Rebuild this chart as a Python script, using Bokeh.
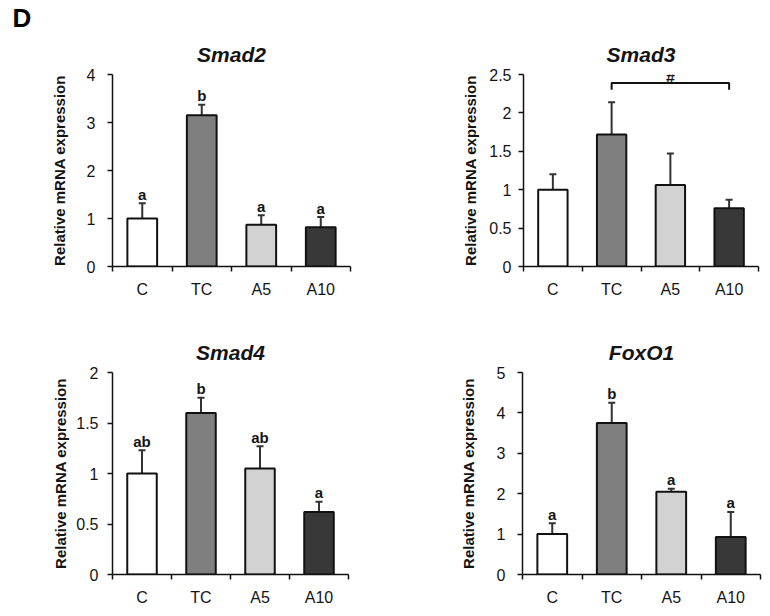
from bokeh.plotting import figure
from bokeh.layouts import column, row
from bokeh.models import (FixedTicker, Range1d, ColumnDataSource, Whisker, TeeHead,
                          Title)
from bokeh.core.properties import value
from bokeh.embed import file_html
from bokeh.resources import INLINE

# ---------------- data ----------------
groups = ["C", "TC", "A5", "A10"]
bar_colors = ["#ffffff", "#7f7f7f", "#d2d2d2", "#383838"]

smad2_mean = [1.00, 3.15, 0.87, 0.82]
smad2_err = [0.32, 0.22, 0.20, 0.21]
smad2_letters = ["a", "b", "a", "a"]
smad2_yticks = [0, 1, 2, 3, 4]
smad2_ylabels = ["0", "1", "2", "3", "4"]

smad3_mean = [1.00, 1.72, 1.06, 0.76]
smad3_err = [0.20, 0.42, 0.41, 0.11]
smad3_letters = ["", "", "", ""]
smad3_yticks = [0, 0.5, 1, 1.5, 2, 2.5]
smad3_ylabels = ["0", "0.5", "1", "1.5", "2", "2.5"]
smad3_bracket_groups = ["TC", "A10"]
smad3_bracket_top = 2.39
smad3_bracket_end = 2.30
smad3_bracket_mark = "#"

smad4_mean = [1.00, 1.60, 1.05, 0.62]
smad4_err = [0.23, 0.15, 0.22, 0.10]
smad4_letters = ["ab", "b", "ab", "a"]
smad4_yticks = [0, 0.5, 1, 1.5, 2]
smad4_ylabels = ["0", "0.5", "1", "1.5", "2"]

foxo1_mean = [1.00, 3.75, 2.05, 0.93]
foxo1_err = [0.27, 0.50, 0.07, 0.62]
foxo1_letters = ["a", "b", "a", "a"]
foxo1_yticks = [0, 1, 2, 3, 4, 5]
foxo1_ylabels = ["0", "1", "2", "3", "4", "5"]

panel_letter = "D"
ylabel_text = "Relative mRNA expression"

FONT = "Liberation Sans"
TXT = "#141414"


def make_panel(title, means, errs, letters, yticks, ylabels, w, h, bl, br, bt, bb,
               tick_standoff, label_standoff):
    n = len(groups)
    xs = [i + 0.5 for i in range(n)]
    tops = [m + e for m, e in zip(means, errs)]
    src = ColumnDataSource(dict(x=xs, top=means, hi=tops, color=bar_colors,
                                letter=letters))
    p = figure(width=w, height=h, output_backend="svg", toolbar_location=None,
               title=None,
               x_range=Range1d(0, n), y_range=Range1d(yticks[0], yticks[-1]),
               min_border_left=bl, min_border_right=br, min_border_top=bt,
               min_border_bottom=bb, outline_line_color=None,
               background_fill_color="white", border_fill_color="white")
    p.xgrid.visible = False
    p.ygrid.visible = False

    p.vbar(x="x", top="top", bottom=0, width=0.5, fill_color="color",
           line_color="#111111", line_width=2, source=src)
    p.add_layout(Whisker(source=src, base="x", lower="top", upper="hi",
                         dimension="height", line_color="#333333", line_width=2,
                         lower_head=None,
                         upper_head=TeeHead(size=7, line_color="#333333", line_width=2)))
    p.text(x="x", y="hi", text="letter", source=src, text_align="center",
           text_baseline="alphabetic", y_offset=-9, text_font=value(FONT),
           text_font_style="bold", text_font_size="15px", text_color=TXT)

    # title (closest to the frame)
    p.add_layout(Title(text=title, align="center", text_font=FONT,
                       text_font_style="bold italic", text_font_size="21px",
                       text_color=TXT, standoff=17), "above")

    # x axis
    xa = p.xaxis[0]
    xa.ticker = FixedTicker(ticks=xs, minor_ticks=list(range(n + 1)))
    xa.major_label_overrides = {x: g for x, g in zip(xs, groups)}
    xa.major_tick_out = 0
    xa.major_tick_in = 0
    xa.minor_tick_out = 5
    xa.minor_tick_in = 0
    xa.minor_tick_line_color = "#111111"
    xa.minor_tick_line_width = 1.5
    xa.axis_line_color = "#111111"
    xa.axis_line_width = 1.5
    xa.major_label_text_font = FONT
    xa.major_label_text_font_size = "16px"
    xa.major_label_text_color = TXT
    xa.major_label_standoff = 9

    # y axis
    ya = p.yaxis[0]
    ya.ticker = FixedTicker(ticks=yticks, minor_ticks=[])
    ya.major_label_overrides = {t: l for t, l in zip(yticks, ylabels)}
    ya.major_tick_out = 5
    ya.major_tick_in = 0
    ya.major_tick_line_color = "#111111"
    ya.major_tick_line_width = 1.5
    ya.axis_line_color = "#111111"
    ya.axis_line_width = 1.5
    ya.major_label_text_font = FONT
    ya.major_label_text_font_size = "16px"
    ya.major_label_text_color = TXT
    ya.major_label_standoff = tick_standoff
    ya.axis_label = ylabel_text
    ya.axis_label_text_font = FONT
    ya.axis_label_text_font_style = "bold"
    ya.axis_label_text_font_size = "15px"
    ya.axis_label_text_color = TXT
    ya.axis_label_standoff = label_standoff
    return p, xs


p1, _ = make_panel("Smad2", smad2_mean, smad2_err, smad2_letters, smad2_yticks,
                   smad2_ylabels, 385, 300, 112, 35, 72, 32, 12, 16)
p2, xs2 = make_panel("Smad3", smad3_mean, smad3_err, smad3_letters, smad3_yticks,
                     smad3_ylabels, 377, 300, 138, 4, 71, 32, 7, 7)
p3, _ = make_panel("Smad4", smad4_mean, smad4_err, smad4_letters, smad4_yticks,
                   smad4_ylabels, 385, 308, 112, 37, 72, 33, 9, 4)
p4, _ = make_panel("FoxO1", foxo1_mean, foxo1_err, foxo1_letters, foxo1_yticks,
                   foxo1_ylabels, 377, 308, 137, 2, 72, 33, 12, 17)

# significance bracket on Smad3 (TC vs A10)
bx0 = xs2[groups.index(smad3_bracket_groups[0])]
bx1 = xs2[groups.index(smad3_bracket_groups[1])]
p2.line(x=[bx0, bx0, bx1, bx1],
        y=[smad3_bracket_end, smad3_bracket_top, smad3_bracket_top, smad3_bracket_end],
        line_color="#111111", line_width=2)
p2.text(x=[(bx0 + bx1) / 2], y=[smad3_bracket_top], text=[smad3_bracket_mark],
        text_align="center", text_baseline="alphabetic", y_offset=-5,
        text_font=value(FONT), text_font_style="bold", text_font_size="16px",
        text_color=TXT)

# panel letter (stacked above the Smad2 title)
p1.add_layout(Title(text=panel_letter, align="left", offset=-100, standoff=0,
                    text_font=FONT, text_font_style="bold", text_font_size="26px",
                    text_color="#000000"), "above")

layout = column(row(p1, p2), row(p3, p4))
open("out.html", "w").write(file_html(layout, INLINE))
